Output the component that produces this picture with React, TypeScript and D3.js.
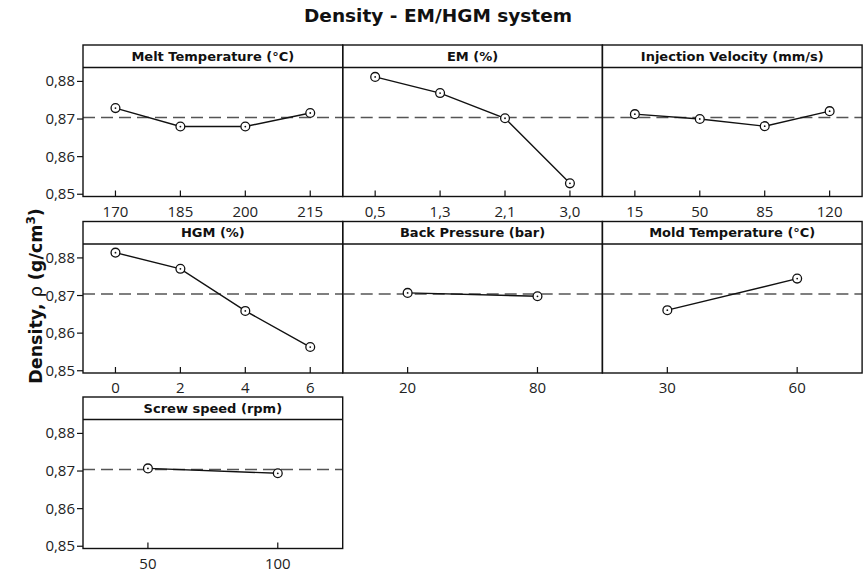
import React from "react";
import * as d3 from "d3";

const meltTemp = ["170", "185", "200", "215"];
const meltDensity = [0.8729, 0.868, 0.868, 0.8716];
const emLevels = ["0,5", "1,3", "2,1", "3,0"];
const emDensity = [0.8812, 0.8769, 0.8702, 0.8529];
const injVelocity = ["15", "50", "85", "120"];
const injDensity = [0.8713, 0.87, 0.8681, 0.8721];
const hgmLevels = ["0", "2", "4", "6"];
const hgmDensity = [0.8814, 0.8771, 0.8659, 0.8563];
const backPressure = ["20", "80"];
const backDensity = [0.8707, 0.8698];
const moldTemp = ["30", "60"];
const moldDensity = [0.8661, 0.8745];
const screwSpeed = ["50", "100"];
const screwDensity = [0.8707, 0.8694];
const meanDensity = 0.8704;
const yTicks = [0.85, 0.86, 0.87, 0.88];

const panels = [
  { title: "Melt Temperature (°C)", cats: meltTemp, vals: meltDensity },
  { title: "EM (%)", cats: emLevels, vals: emDensity },
  { title: "Injection Velocity (mm/s)", cats: injVelocity, vals: injDensity },
  { title: "HGM (%)", cats: hgmLevels, vals: hgmDensity },
  { title: "Back Pressure (bar)", cats: backPressure, vals: backDensity },
  { title: "Mold Temperature (°C)", cats: moldTemp, vals: moldDensity },
  { title: "Screw speed (rpm)", cats: screwSpeed, vals: screwDensity },
];

const W = 864;
const H = 573;
const left0 = 83;
const panelW = 259.7;
const rowTops = [45, 221.5, 397];
const panelH = 151.5;
const stripH = 22.5;
const FONT = "'Open Sans', sans-serif";
const BOLD = "'DejaVu Sans', sans-serif";

export default function App() {
  const fmt = (v: number) => v.toFixed(2).replace(".", ",");
  return (
    <svg width={W} height={H} style={{ position: "absolute", left: 0, top: 0, background: "#fff" }} fontFamily={FONT}>
      <text x={438} y={22} textAnchor="middle" fontSize={18.5} fontWeight={700} fill="#111" fontFamily={BOLD}>
        Density - EM/HGM system
      </text>
      <text
        transform={`translate(42,296) rotate(-90)`}
        textAnchor="middle"
        fontSize={17.5}
        fontWeight={700}
        fill="#111"
        fontFamily={BOLD}
      >
        Density,{" "}
        <tspan fontWeight={400}>ρ</tspan> (g/cm
        <tspan dy={-7} fontSize={12}>3</tspan>
        <tspan dy={7}>)</tspan>
      </text>
      {panels.map((p, i) => {
        const row = Math.floor(i / 3);
        const col = i % 3;
        const x0 = left0 + col * panelW;
        const top = rowTops[row];
        const bottom = top + panelH;
        const plotTop = top + stripH;
        const x = d3.scalePoint<string>().domain(p.cats).range([x0, x0 + panelW]).padding(0.5);
        const y = d3.scaleLinear().domain([0.8494, 0.8837]).range([bottom, plotTop]);
        const line = d3
          .line<number>()
          .x((_, k) => x(p.cats[k]) as number)
          .y((v) => y(v));
        return (
          <g key={i}>
            <line
              x1={x0}
              x2={x0 + panelW}
              y1={y(meanDensity)}
              y2={y(meanDensity)}
              stroke="#555"
              strokeWidth={1.4}
              strokeDasharray="12,6"
            />
            {p.cats.map((c) => (
              <line key={c} x1={x(c)} x2={x(c)} y1={bottom} y2={bottom - 6} stroke="#111" strokeWidth={1.2} />
            ))}
            <path d={line(p.vals) || ""} fill="none" stroke="#111" strokeWidth={1.4} />
            {p.vals.map((v, k) => (
              <g key={k}>
                <circle cx={x(p.cats[k])} cy={y(v)} r={4.4} fill="#fff" stroke="#111" strokeWidth={1.3} />
                <circle cx={x(p.cats[k])} cy={y(v)} r={0.9} fill="#111" />
              </g>
            ))}
            <rect x={x0} y={top} width={panelW} height={panelH} fill="none" stroke="#111" strokeWidth={1.4} />
            <line x1={x0} x2={x0 + panelW} y1={plotTop} y2={plotTop} stroke="#111" strokeWidth={1.4} />
            <text
              x={x0 + panelW / 2}
              y={top + stripH / 2 + 4.5}
              textAnchor="middle"
              fontSize={13}
              fontWeight={700}
              fill="#111"
              fontFamily={BOLD}
            >
              {p.title}
            </text>
            {p.cats.map((c) => (
              <text key={c} x={x(c)} y={bottom + 20} textAnchor="middle" fontSize={15} fill="#222">
                {c}
              </text>
            ))}
            {col === 0 &&
              yTicks.map((t) => (
                <g key={t}>
                  <line x1={x0 - 6} x2={x0} y1={y(t)} y2={y(t)} stroke="#111" strokeWidth={1.2} />
                  <text x={x0 - 8} y={y(t) + 5} textAnchor="end" fontSize={15} fill="#222">
                    {fmt(t)}
                  </text>
                </g>
              ))}
          </g>
        );
      })}
    </svg>
  );
}
